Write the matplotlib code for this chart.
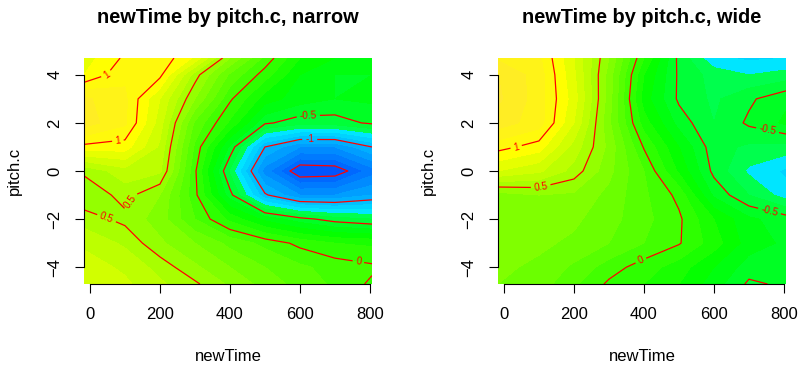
import colorsys
import numpy as np
import matplotlib
matplotlib.use("Agg")
import matplotlib.pyplot as plt
from matplotlib.colors import ListedColormap, Normalize

plt.rcParams['font.family'] = ['Liberation Sans', 'DejaVu Sans']

# grid (pitch rows from bottom to top)
newTime = [-17, 100, 200, 300, 400, 500, 600, 700, 806]
pitch = [-4.7, -4, -3, -2, -1, 0, 1, 2, 3, 4, 4.7]

narrow = [
    [0.78, 0.72, 0.62, 0.52, 0.38, 0.26, 0.16, 0.08, -0.02],
    [0.75, 0.68, 0.56, 0.42, 0.30, 0.20, 0.12, 0.06, 0.02],
    [0.68, 0.58, 0.42, 0.30, 0.17, 0.07, -0.03, -0.10, -0.12],
    [0.55, 0.47, 0.35, 0.10, -0.13, -0.33, -0.46, -0.55, -0.60],
    [0.42, 0.54, 0.40, 0.03, -0.46, -0.98, -1.20, -1.20, -1.10],
    [0.52, 0.66, 0.62, 0.02, -0.62, -1.25, -1.60, -1.58, -1.35],
    [0.97, 0.95, 0.68, 0.08, -0.42, -1.00, -1.20, -1.20, -1.00],
    [1.25, 1.12, 0.75, 0.18, -0.12, -0.48, -0.56, -0.55, -0.48],
    [1.22, 1.12, 0.80, 0.40, 0.02, -0.25, -0.35, -0.40, -0.38],
    [0.90, 1.08, 1.03, 0.55, 0.18, -0.05, -0.30, -0.40, -0.40],
    [0.85, 1.02, 1.08, 0.88, 0.40, 0.07, -0.20, -0.30, -0.35],
]

wide = [
    [0.30, 0.25, 0.12, -0.02, -0.10, -0.20, -0.35, -0.52, -0.48],
    [0.32, 0.28, 0.18, 0.05, -0.05, -0.15, -0.30, -0.45, -0.48],
    [0.35, 0.32, 0.28, 0.20, 0.10, 0.01, -0.15, -0.35, -0.42],
    [0.38, 0.36, 0.32, 0.24, 0.13, 0.02, -0.20, -0.38, -0.45],
    [0.35, 0.40, 0.38, 0.27, 0.12, -0.03, -0.42, -0.60, -0.75],
    [0.80, 0.72, 0.56, 0.33, 0.10, -0.22, -0.53, -0.72, -0.82],
    [1.04, 0.95, 0.66, 0.37, -0.01, -0.30, -0.56, -0.62, -0.64],
    [1.25, 1.15, 0.80, 0.32, -0.15, -0.44, -0.60, -0.48, -0.38],
    [1.32, 1.15, 0.85, 0.35, -0.25, -0.52, -0.62, -0.52, -0.42],
    [1.30, 1.15, 0.82, 0.36, -0.20, -0.52, -0.64, -0.70, -0.66],
    [1.18, 1.12, 0.80, 0.40, -0.10, -0.53, -0.78, -0.82, -0.80],
]

contour_levels = [-1.5, -1, -0.5, 0, 0.5, 1]
narrow_labels = [(52, 3.82), (81, 1.11), (105, -1.14), (48, -1.94),
                 (624, 2.25), (628, 1.32), (771, -3.4)]
wide_labels = [(36, 0.93), (108, -0.83), (393, -3.78), (750, 1.46), (760, -1.6)]

zlim = (-2.5, 2.5)


# R's topo.colors(50)
def topo_colors(n):
    j = n // 3
    k = n // 3
    i = n - j - k
    cols = [colorsys.hsv_to_rgb(h, 1, 1) for h in np.linspace(43/60, 31/60, i)]
    cols += [colorsys.hsv_to_rgb(h, 1, 1) for h in np.linspace(23/60, 11/60, j)]
    cols += [colorsys.hsv_to_rgb(h, s, 1) for h, s in
             zip(np.linspace(10/60, 6/60, k), np.linspace(1, 0.3, k))]
    return ListedColormap(cols)


cmap = topo_colors(50)
norm = Normalize(*zlim)


def panel(ax, z, title, labpos):
    z = np.array(z)
    ax.contourf(newTime, pitch, z, levels=np.linspace(zlim[0], zlim[1], 51),
                cmap=cmap, norm=norm)
    cs = ax.contour(newTime, pitch, z, levels=contour_levels,
                    colors='red', linewidths=0.9, linestyles='solid')
    ax.clabel(cs, manual=labpos, inline=True, inline_spacing=3,
              fmt=lambda v: f'{v:g}', fontsize=7.2, colors='red')
    ax.set_xlim(-17, 806)
    ax.set_ylim(-4.7, 4.7)
    ax.set_xticks([0, 200, 400, 600, 800])
    ax.set_yticks([-4, -2, 0, 2, 4])
    for s in ['top', 'right']:
        ax.spines[s].set_visible(False)
    ax.spines['left'].set_bounds(-4, 4)
    ax.spines['bottom'].set_bounds(0, 800)
    for s in ['left', 'bottom']:
        ax.spines[s].set_linewidth(0.8)
    ax.tick_params(direction='out', length=6.5, width=0.8, labelsize=12)
    ax.tick_params(axis='x', pad=10)
    ax.tick_params(axis='y', pad=9)
    for t in ax.get_yticklabels():
        t.set_rotation(90)
        t.set_va('center')
    ax.set_xlabel('newTime', fontsize=12)
    ax.xaxis.set_label_coords(0.5, -0.323)
    ax.xaxis.label.set_va('center')
    ax.set_ylabel('pitch.c', fontsize=12)
    ax.yaxis.set_label_coords(-0.24, 0.5)
    ax.yaxis.label.set_va('center')
    ax.text(0.5, 1.177, title, transform=ax.transAxes, ha='center', va='center',
            fontsize=14.4, fontweight='bold')


fig = plt.figure(figsize=(7.99, 3.66), dpi=100)
ax1 = fig.add_axes([84/799, 82/366, 288/799, 226/366])
ax2 = fig.add_axes([498/799, 82/366, 288/799, 226/366])

panel(ax1, narrow, 'newTime by pitch.c, narrow', narrow_labels)
panel(ax2, wide, 'newTime by pitch.c, wide', wide_labels)

fig.savefig('out.png', dpi=100)
